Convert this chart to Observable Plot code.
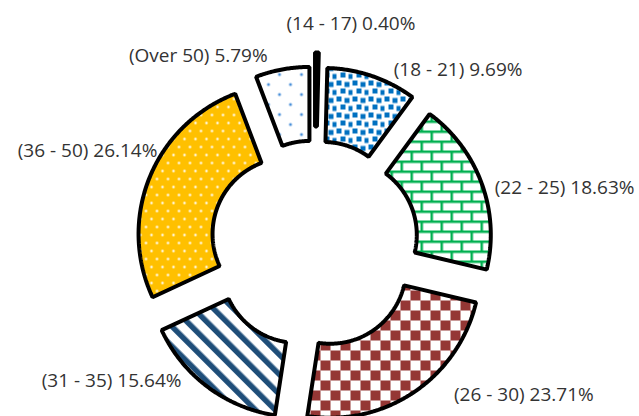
<!DOCTYPE html>
<html>
<head>
<meta charset="utf-8">
<script src="https://cdn.jsdelivr.net/npm/d3@7"></script>
<script src="https://cdn.jsdelivr.net/npm/@observablehq/plot@0.6"></script>
<style>html,body{margin:0;padding:0;background:#fff;overflow:hidden}</style>
</head>
<body>
<div id="chart"></div>
<script>
// ---- data ----
const categories = ["(14 - 17)", "(18 - 21)", "(22 - 25)", "(26 - 30)", "(31 - 35)", "(36 - 50)", "(Over 50)"];
const percentages = [0.40, 9.69, 18.63, 23.71, 15.64, 26.14, 5.79];

// ---- layout / style ----
const W = 639, H = 416;
const cx = 314, cy = 244;          // donut centre (px)
const outerR = 150, innerR = 76;   // radii (px)
const explode = [42, 28, 28, 28, 28, 28, 28];
const fills = ["#000", "url(#p-confetti)", "url(#p-brick)", "url(#p-checker)", "url(#p-stripes)", "url(#p-gold)", "url(#p-dots)"];
const labelNudge = [[34, -29], [86, -6], [83, 5], [110, 3], [-96, -6], [-62, -27], [-84, -14]];

// ---- geometry from values ----
const total = d3.sum(percentages);
let acc = 0;
const slices = percentages.map((v, i) => {
  const a0 = acc / total * 2 * Math.PI;
  acc += v;
  const a1 = acc / total * 2 * Math.PI;
  const mid = (a0 + a1) / 2;
  const ox = cx + explode[i] * Math.sin(mid), oy = cy - explode[i] * Math.cos(mid);
  const n = Math.max(2, Math.ceil((a1 - a0) / (Math.PI / 360)));
  const pts = [];
  for (let k = 0; k <= n; k++) {
    const a = a0 + (a1 - a0) * k / n;
    pts.push({x: ox + outerR * Math.sin(a), y: oy - outerR * Math.cos(a)});
  }
  for (let k = n; k >= 0; k--) {
    const a = a0 + (a1 - a0) * k / n;
    pts.push({x: ox + innerR * Math.sin(a), y: oy - innerR * Math.cos(a)});
  }
  const lr = outerR + explode[i];
  return {
    points: pts,
    fill: fills[i],
    label: `${categories[i]} ${v.toFixed(2)}%`,
    lx: cx + lr * Math.sin(mid) + labelNudge[i][0],
    ly: cy - lr * Math.cos(mid) + labelNudge[i][1]
  };
});

const marks = slices.map(s => Plot.line(s.points, {
  x: "x", y: "y", fill: s.fill, stroke: "#000", strokeWidth: 4,
  strokeLinejoin: "miter", curve: "linear-closed"
}));
marks.push(Plot.text(slices, {
  x: "lx", y: "ly", text: "label", fontSize: 19,
  fontFamily: "Open Sans", fill: "#333333"
}));

const svg = Plot.plot({
  width: W, height: H, margin: 0,
  x: {domain: [0, W], range: [0, W], axis: null},
  y: {domain: [0, H], range: [0, H], axis: null},
  marks
});

// ---- fill patterns ----
const defs = d3.select(svg).insert("defs", ":first-child");
function pat(id, w, h, bg, transform) {
  const p = defs.append("pattern").attr("id", id).attr("patternUnits", "userSpaceOnUse")
    .attr("width", w).attr("height", h);
  if (transform) p.attr("patternTransform", transform);
  p.append("rect").attr("width", w).attr("height", h).attr("fill", bg);
  return p;
}
// blue confetti
{
  const p = pat("p-confetti", 16, 16, "#fff");
  [[0, 0], [8, 1.5], [4, 8], [12, 9.5]].forEach(([x, y]) =>
    p.append("rect").attr("x", x).attr("y", y).attr("width", 5).attr("height", 5).attr("fill", "#0070C0"));
}
// green bricks
{
  const p = pat("p-brick", 20, 20, "#fff");
  const g = "#00B050";
  p.append("rect").attr("x", 0).attr("y", 0).attr("width", 20).attr("height", 2.5).attr("fill", g);
  p.append("rect").attr("x", 0).attr("y", 10).attr("width", 20).attr("height", 2.5).attr("fill", g);
  p.append("rect").attr("x", 0).attr("y", 0).attr("width", 2.5).attr("height", 10).attr("fill", g);
  p.append("rect").attr("x", 10).attr("y", 10).attr("width", 2.5).attr("height", 10).attr("fill", g);
}
// red checker
{
  const p = pat("p-checker", 20, 20, "#fff");
  p.append("rect").attr("x", 0).attr("y", 0).attr("width", 10).attr("height", 10).attr("fill", "#953735");
  p.append("rect").attr("x", 10).attr("y", 10).attr("width", 10).attr("height", 10).attr("fill", "#953735");
}
// navy downward diagonal stripes
{
  const p = pat("p-stripes", 14, 14, "#fff", "rotate(-45)");
  p.append("rect").attr("x", 0).attr("y", 0).attr("width", 5.5).attr("height", 14).attr("fill", "#1F4E79");
}
// gold with white dots
{
  const p = pat("p-gold", 11, 16, "#FFC000");
  [[2.5, 2.5], [8, 10.5]].forEach(([x, y]) =>
    p.append("circle").attr("cx", x).attr("cy", y).attr("r", 1.2).attr("fill", "#fff"));
}
// sparse blue dots
{
  const p = pat("p-dots", 22, 20, "#fff");
  [[4, 4], [15, 14]].forEach(([x, y]) =>
    p.append("circle").attr("cx", x).attr("cy", y).attr("r", 1.5).attr("fill", "#4A90D9"));
}

document.getElementById("chart").appendChild(svg);
</script>
</body>
</html>
